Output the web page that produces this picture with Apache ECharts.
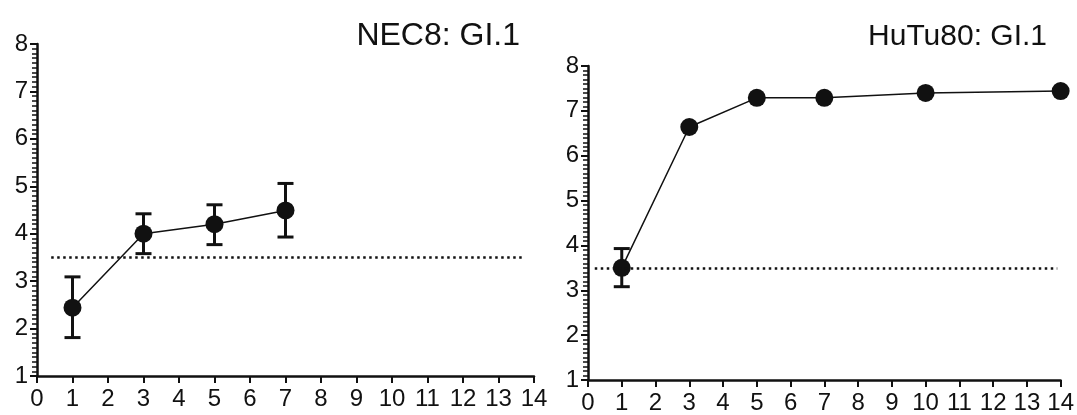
<!DOCTYPE html>
<html>
<head>
<meta charset="utf-8">
<script src="https://cdn.jsdelivr.net/npm/echarts@6/dist/echarts.min.js"></script>
<style>
  html, body { margin: 0; padding: 0; background: #fff; }
  #main { width: 1077px; height: 415px; }
</style>
</head>
<body>
<div id="main"></div>
<script>
// values
const nec8Days = [1, 3, 5, 7];
const nec8Mean = [2.44, 4.0, 4.2, 4.49];
const nec8Low = [1.81, 3.58, 3.77, 3.93];
const nec8High = [3.09, 4.42, 4.61, 5.06];

const hutuDays = [1, 3, 5, 7, 10, 14];
const hutuMean = [3.5, 6.64, 7.29, 7.29, 7.40, 7.44];
const hutuErrDays = [1];
const hutuLow = [3.08];
const hutuHigh = [3.93];

const limit = 3.5;          // dotted detection line
const limitFrom = [0.4, 0.2];
const limitTo = [13.7, 13.9];

const titles = ['NEC8: GI.1', 'HuTu80: GI.1'];

const ink = '#111';
const font = '"Liberation Sans", Arial, sans-serif';

function pairs(xs, ys) {
    let out = [];
    for (let i = 0; i < xs.length; i++) out.push([xs[i], ys[i]]);
    return out;
}

function errRows(xs, lo, hi) {
    let out = [];
    for (let i = 0; i < xs.length; i++) out.push([xs[i], lo[i], hi[i]]);
    return out;
}

function renderErr(params, api) {
    let x = api.value(0);
    let top = api.coord([x, api.value(2)]);
    let bot = api.coord([x, api.value(1)]);
    let w = 8;
    let st = { stroke: ink, lineWidth: 3 };
    return {
        type: 'group',
        children: [
            { type: 'line', shape: { x1: top[0], y1: top[1], x2: bot[0], y2: bot[1] }, style: st },
            { type: 'line', shape: { x1: top[0] - w, y1: top[1], x2: top[0] + w, y2: top[1] }, style: st },
            { type: 'line', shape: { x1: bot[0] - w, y1: bot[1], x2: bot[0] + w, y2: bot[1] }, style: st }
        ]
    };
}

function xAxis(idx) {
    return {
        type: 'value', gridIndex: idx, min: 0, max: 14, interval: 1,
        axisLine: { lineStyle: { color: ink, width: 2.5 } },
        axisTick: { length: 7, lineStyle: { color: ink, width: 2 } },
        splitLine: { show: false },
        axisLabel: { color: ink, fontSize: 24, fontFamily: font, margin: 11 }
    };
}

function yAxis(idx) {
    return {
        type: 'value', gridIndex: idx, min: 1, max: 8, interval: 1,
        axisLine: { show: true, lineStyle: { color: ink, width: 2.5 } },
        axisTick: { show: true, length: 7, lineStyle: { color: ink, width: 2 } },
        splitLine: { show: false },
        axisLabel: { color: ink, fontSize: 24, fontFamily: font, margin: 9 }
    };
}

// second y axis on the same grid, only for the fine 0.1 ticks
function yMinor(idx) {
    return {
        type: 'value', gridIndex: idx, min: 1, max: 8, interval: 0.1,
        position: 'left', offset: 0,
        axisLine: { show: false },
        axisTick: { show: true, length: 5, lineStyle: { color: ink, width: 1.5 } },
        splitLine: { show: false },
        axisLabel: { show: false }
    };
}

function limitLine(i) {
    return {
        silent: true,
        symbol: 'none',
        label: { show: false },
        lineStyle: { color: ink, width: 2.5, type: [2.5, 3.5] },
        data: [[{ coord: [limitFrom[i], limit] }, { coord: [limitTo[i], limit] }]]
    };
}

let myChart = echarts.init(document.getElementById('main'));
myChart.setOption({
    animation: false,
    backgroundColor: '#fff',
    title: [
        { text: titles[0], right: 552, top: 15,
          textStyle: { color: ink, fontSize: 32, fontWeight: 'normal', fontFamily: font } },
        { text: titles[1], right: 25, top: 17,
          textStyle: { color: ink, fontSize: 30, fontWeight: 'normal', fontFamily: font } }
    ],
    grid: [
        { left: 37, top: 44, width: 497, height: 332 },
        { left: 588, top: 66, width: 474, height: 317 }
    ],
    xAxis: [xAxis(0), xAxis(1)],
    yAxis: [yAxis(0), yAxis(1), yMinor(0), yMinor(1)],
    series: [
        {
            type: 'custom', xAxisIndex: 0, yAxisIndex: 0,
            renderItem: renderErr, encode: { x: 0, y: [1, 2] },
            data: errRows(nec8Days, nec8Low, nec8High), z: 3
        },
        {
            type: 'line', xAxisIndex: 0, yAxisIndex: 0,
            data: pairs(nec8Days, nec8Mean),
            symbol: 'circle', symbolSize: 18,
            itemStyle: { color: ink },
            lineStyle: { color: ink, width: 1.5 },
            markLine: limitLine(0), z: 4
        },
        {
            type: 'custom', xAxisIndex: 1, yAxisIndex: 1,
            renderItem: renderErr, encode: { x: 0, y: [1, 2] },
            data: errRows(hutuErrDays, hutuLow, hutuHigh), z: 3
        },
        {
            type: 'line', xAxisIndex: 1, yAxisIndex: 1,
            data: pairs(hutuDays, hutuMean),
            symbol: 'circle', symbolSize: 18,
            itemStyle: { color: ink },
            lineStyle: { color: ink, width: 1.5 },
            markLine: limitLine(1), z: 4
        }
    ]
});
</script>
</body>
</html>
